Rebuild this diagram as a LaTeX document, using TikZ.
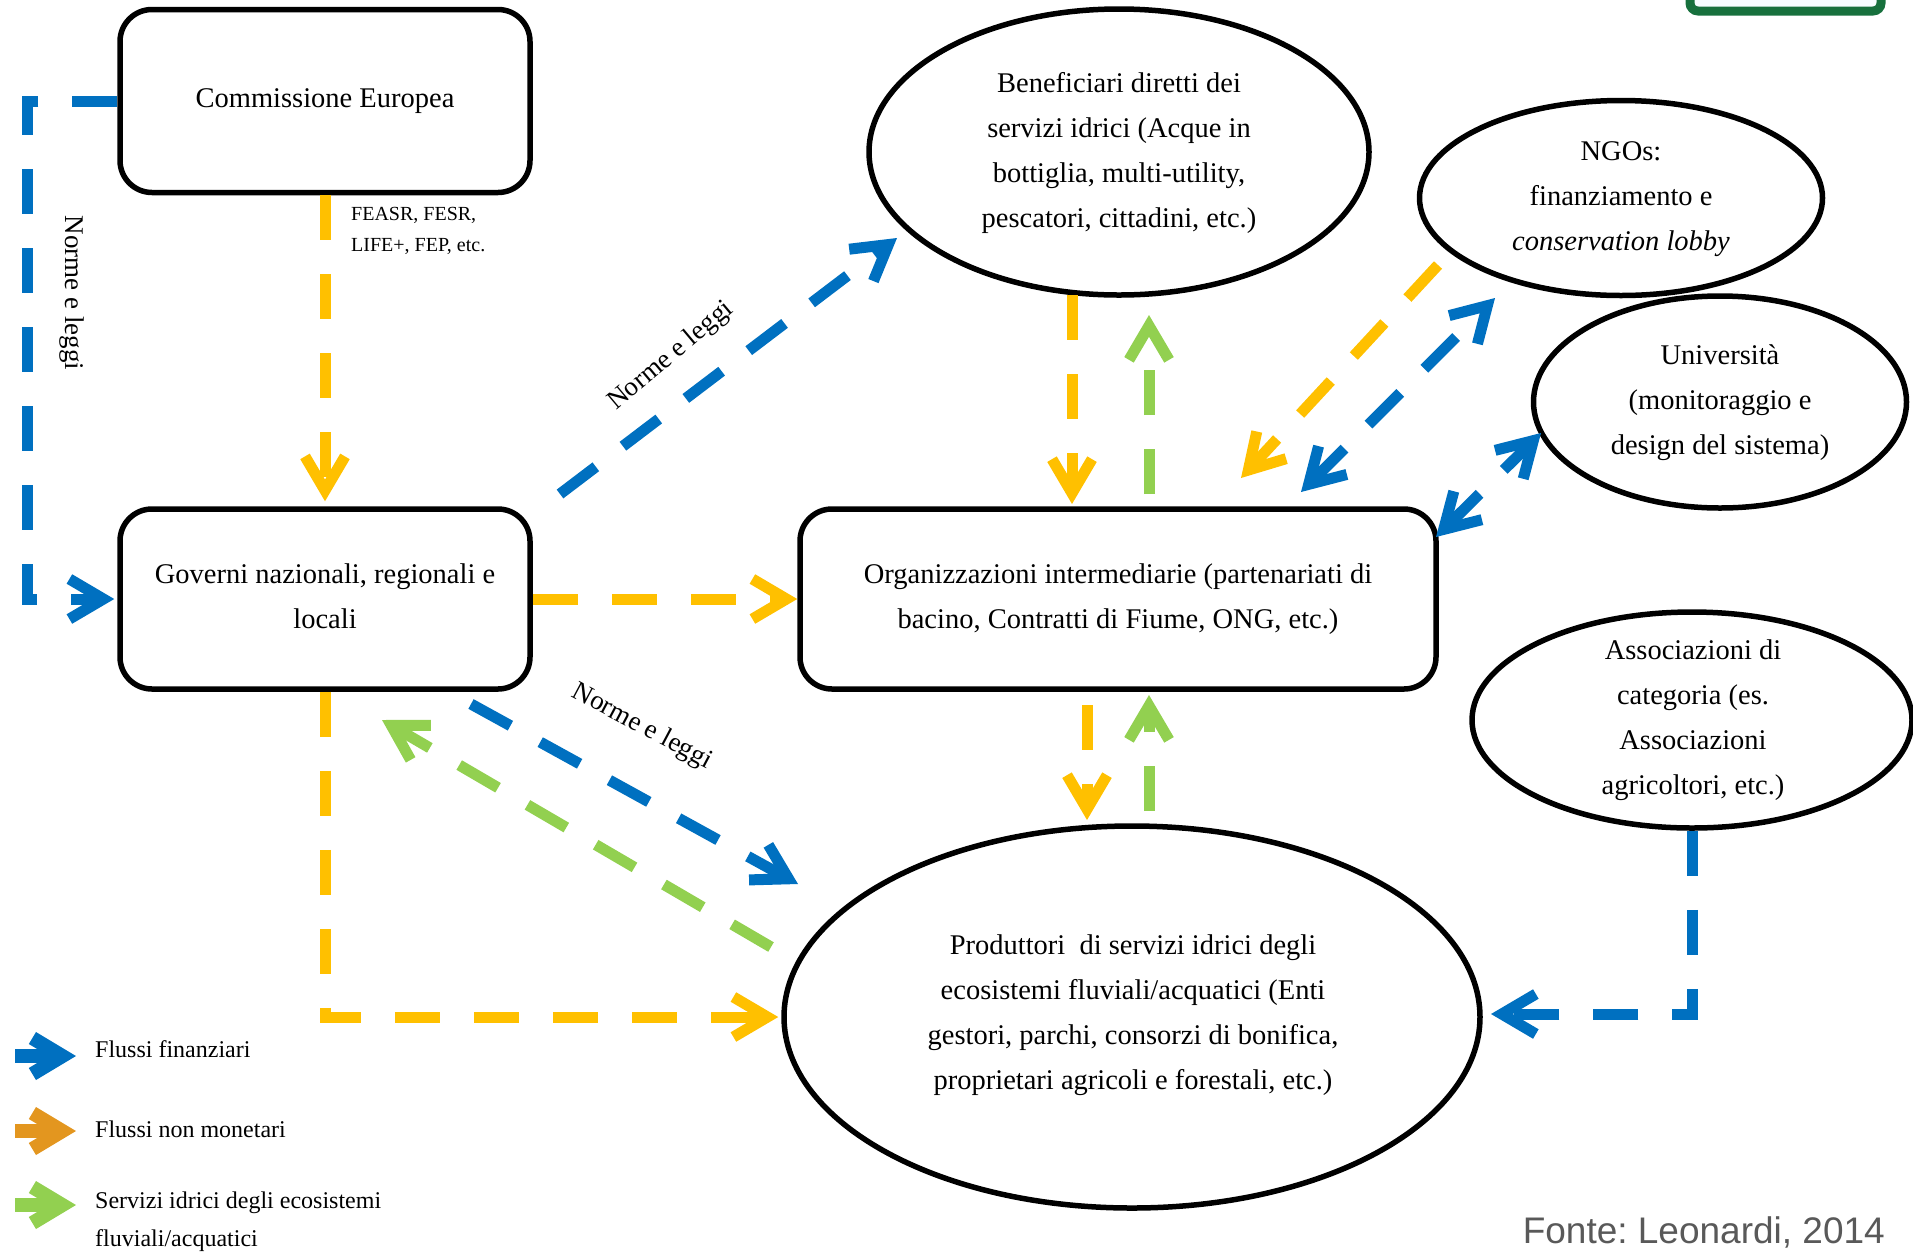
\documentclass[tikz,border=0pt]{standalone}
\usepackage{fontspec}
\setmainfont{Liberation Serif}
\newfontfamily\fontesans{Liberation Sans}
\usetikzlibrary{arrows.meta,shapes.geometric}
\frenchspacing
\definecolor{cblue}{HTML}{0070C0}
\definecolor{cyellow}{HTML}{FFC000}
\definecolor{cgreen}{HTML}{92D050}
\definecolor{corange}{HTML}{E3961F}
\definecolor{cgray}{HTML}{595959}
\definecolor{cdkgreen}{HTML}{17703D}
\newcommand\mainsz{\fontsize{28.5}{45}\selectfont}
\newcommand\labsz{\fontsize{27}{32}\selectfont}
\newcommand\smallsz{\fontsize{20}{31}\selectfont}
\newcommand\legsz{\fontsize{24}{38}\selectfont}
\tikzset{
  box/.style={draw, line width=5.5pt, rounded corners=32pt, fill=white, align=center, font=\mainsz, inner sep=0pt},
  oval/.style={ellipse, draw, line width=5.5pt, fill=white, inner sep=0pt},
  ovaltext/.style={align=center, font=\mainsz, inner sep=0pt},
  flow/.style={line width=11pt, dash pattern=on 45pt off 34pt, -{Straight Barb[length=34pt,width=40pt,sharp]}},
  fin/.style={flow, draw=cblue},
  bifin/.style={line width=11pt, dash pattern=on 45pt off 34pt, draw=cblue, {Straight Barb[length=34pt,width=40pt,sharp]}-{Straight Barb[length=34pt,width=40pt,sharp]}},
  nonmon/.style={flow, draw=cyellow},
  serv/.style={flow, draw=cgreen},
  lab/.style={font=\labsz, inner sep=0pt},
  legtext/.style={font=\legsz, align=left, anchor=west, inner sep=0pt},
  legarrow/.style={line width=14pt, -{Straight Barb[length=30pt,width=36pt,sharp]}},
}
\begin{document}
\begin{tikzpicture}[x=1pt,y=-1pt]
\useasboundingbox (0,0) rectangle (1913,1251);
% cut-off logo frame
\draw[cdkgreen, line width=9pt, rounded corners=8pt, fill=cyan!3] (1690,-40) rectangle (1881,11);

% boxes
\node[box, minimum width=410pt, minimum height=183pt] (ce) at (325,101) {Commissione Europea};
\node[box, minimum width=410pt, minimum height=180pt] (gov) at (325,599) {Governi nazionali, regionali e\\locali\vphantom{()}};
\node[box, minimum width=636pt, minimum height=180pt] (org) at (1118,599) {Organizzazioni intermediarie (partenariati di\\bacino, Contratti di Fiume, ONG, etc.)};

% ellipses
\node[oval, minimum width=500pt, minimum height=286pt] (benef) at (1119,152) {};
\node[ovaltext] (benef-t) at (1119,153) {Beneficiari diretti dei\\servizi idrici (Acque in\\bottiglia, multi-utility,\\pescatori, cittadini, etc.)};
\node[oval, minimum width=403pt, minimum height=195pt] (ngo) at (1621,198) {};
\node[ovaltext] (ngo-t) at (1621,199) {NGOs:\\finanziamento e\\\textit{conservation lobby}};
\node[oval, minimum width=373pt, minimum height=212pt] (univ) at (1720,402) {};
\node[ovaltext] (univ-t) at (1720,403) {Università\\(monitoraggio e\\design del sistema)};
\node[oval, minimum width=440pt, minimum height=216pt] (assoc) at (1692,720) {};
\node[ovaltext] (assoc-t) at (1693,720) {Associazioni di\\categoria (es.\\Associazioni\\agricoltori, etc.)};
\node[oval, minimum width=696pt, minimum height=382pt] (prod) at (1132,1017) {};
\node[ovaltext] (prod-t) at (1133,1015) {Produttori\ \ di servizi idrici degli\\ecosistemi fluviali/acquatici (Enti\\gestori, parchi, consorzi di bonifica,\\proprietari agricoli e forestali, etc.)};

% connectors
\draw[fin, shorten >=3pt] (ce.west) -- ++(-90,0) |- (gov.west);
\draw[nonmon, shorten >=5pt] (ce.south) -- (gov.north);
\draw[fin] ([shift={(235,-105)}]gov.center) -- ([shift={(-222,86)}]benef.center);
\draw[nonmon] (gov.east) -- (org.west);
\draw[fin] ([shift={(146,105)}]gov.center) -- ([shift={(-334,-133)}]prod.center);
\draw[serv] ([shift={(-361,-70)}]prod.center) -- ([shift={(57,121)}]gov.center);
\draw[nonmon, shorten >=3pt] (gov.south) |- (prod.west);
\draw[nonmon] ([shift={(-47,143)}]benef.center) -- ([shift={(-46,-95)}]org.center);
\draw[serv] ([shift={(31,-105)}]org.center) -- ([shift={(30,163)}]benef.center);
\draw[nonmon] ([shift={(-183,67)}]ngo.center) -- ([shift={(123,-121)}]org.center);
\draw[bifin] ([shift={(183,-107)}]org.center) -- ([shift={(-126,100)}]ngo.center);
\draw[bifin] ([shift={(318,-62)}]org.center) -- ([shift={(-179,31)}]univ.center);
\draw[nonmon] ([shift={(-31,106)}]org.center) -- ([shift={(-45,-197)}]prod.center);
\draw[serv] ([shift={(17,-206)}]prod.center) -- ([shift={(31,96)}]org.center);
\draw[fin] (assoc.south) |- ([shift={(359,-3)}]prod.center);

% labels
\node[lab, rotate=-90] (lbl1) at (72,293) {Norme e leggi};
\node[lab, rotate=40] (lbl2) at (671,356) {Norme e leggi};
\node[lab, rotate=-28] (lbl3) at (642,727) {Norme e leggi};
\node[font=\smallsz, align=left, anchor=west, inner sep=0pt] (funds) at (351,231) {FEASR, FESR,\\LIFE+, FEP, etc.};

% legend
\draw[legarrow, cblue] (15,1056) -- (76,1056);
\draw[legarrow, corange] (15,1131) -- (76,1131);
\draw[legarrow, cgreen] (15,1205) -- (76,1205);
\node[legtext] (leg1) at (95,1049) {Flussi finanziari};
\node[legtext] (leg2) at (95,1129) {Flussi non monetari};
\node[legtext] (leg3) at (95,1222) {Servizi idrici degli ecosistemi\\fluviali/acquatici};
\node[font=\fontesans\fontsize{37}{44}\selectfont, text=cgray, anchor=east, inner sep=0pt] (src) at (1885,1232) {Fonte: Leonardi, 2014};
\end{tikzpicture}
\end{document}
